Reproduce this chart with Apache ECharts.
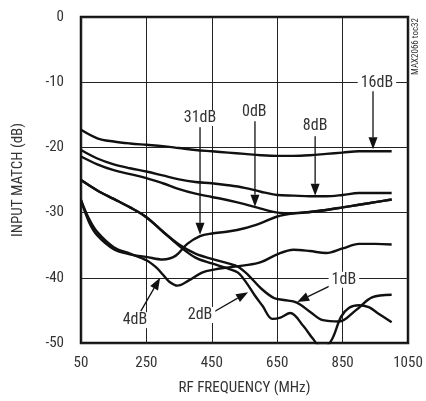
<!DOCTYPE html>
<html>
<head>
<meta charset="utf-8">
<script src="https://cdn.jsdelivr.net/npm/echarts@6/dist/echarts.min.js"></script>
<style>
  html, body { margin: 0; padding: 0; background: #fff; }
  #chart { width: 426px; height: 401px; }
</style>
</head>
<body>
<div id="chart"></div>
<script>
// Input match vs. RF frequency for several attenuation states
var xTicks = [50, 250, 450, 650, 850, 1050];
var yTicks = [0, -10, -20, -30, -40, -50];

var freq16 = [50, 100, 150, 200, 250, 300, 350, 400, 450, 500, 550, 600, 650, 700, 750, 800, 850, 900, 950, 1000];
var match16 = [-17.3, -18.6, -19.1, -19.4, -19.6, -19.8, -20.1, -20.4, -20.6, -20.8, -21.0, -21.2, -21.3, -21.3, -21.2, -21.0, -20.8, -20.6, -20.6, -20.6];

var freq8 = [50, 100, 150, 200, 250, 300, 350, 400, 450, 500, 550, 600, 650, 700, 750, 800, 850, 900, 950, 1000];
var match8 = [-20.4, -21.7, -22.6, -23.2, -23.7, -24.3, -24.9, -25.3, -25.5, -25.8, -26.2, -26.8, -27.3, -27.4, -27.5, -27.5, -27.3, -27.0, -27.0, -27.0];

var freq0 = [50, 100, 150, 200, 250, 300, 350, 400, 450, 500, 550, 600, 650, 700, 750, 800, 850, 900, 950, 1000];
var match0 = [-21.4, -22.6, -23.5, -24.1, -24.7, -25.5, -26.4, -27.1, -27.6, -28.1, -28.7, -29.4, -30.0, -30.1, -29.9, -29.6, -29.2, -28.8, -28.4, -28.0];

var freq31 = [50, 75, 100, 150, 200, 250, 300, 340, 375, 414, 450, 500, 550, 600, 650, 700, 750, 800, 850, 900, 950, 1000];
var match31 = [-28.1, -31.5, -33.5, -35.6, -36.4, -36.8, -37.2, -36.6, -34.8, -33.6, -33.2, -32.9, -32.4, -31.6, -30.6, -30.1, -29.9, -29.6, -29.2, -28.8, -28.4, -28.0];

var freq4 = [50, 75, 100, 150, 200, 250, 280, 300, 320, 345, 380, 420, 460, 500, 550, 600, 650, 700, 750, 800, 850, 900, 950, 1000];
var match4 = [-28.1, -31.0, -33.0, -35.3, -36.3, -37.3, -38.4, -39.5, -40.6, -41.2, -40.4, -39.2, -38.7, -38.4, -38.1, -37.6, -36.4, -35.7, -35.9, -36.2, -35.5, -34.8, -34.8, -34.9];

var freq1 = [50, 100, 150, 200, 250, 300, 350, 400, 450, 500, 530, 560, 600, 640, 670, 710, 750, 790, 840, 890, 940, 1000];
var match1 = [-25.0, -26.6, -27.9, -29.2, -30.7, -32.9, -34.9, -36.3, -37.1, -37.8, -38.3, -39.5, -41.6, -43.1, -43.4, -43.8, -45.2, -46.5, -46.7, -45.0, -43.0, -42.6];

var freq2 = [50, 100, 150, 200, 250, 300, 350, 400, 450, 500, 530, 555, 580, 605, 635, 660, 690, 730, 760, 780, 800, 820, 845, 870, 900, 930, 960, 1000];
var match2 = [-25.0, -26.6, -27.9, -29.2, -30.7, -32.9, -35.1, -36.9, -37.8, -38.6, -39.2, -40.7, -42.6, -44.3, -46.3, -46.1, -45.4, -47.4, -49.4, -50.4, -50.4, -49.2, -46.0, -44.6, -44.2, -44.5, -45.5, -46.8];

var curves = [
  { name: '16dB', x: freq16, y: match16 },
  { name: '8dB', x: freq8, y: match8 },
  { name: '0dB', x: freq0, y: match0 },
  { name: '31dB', x: freq31, y: match31 },
  { name: '4dB', x: freq4, y: match4 },
  { name: '1dB', x: freq1, y: match1 },
  { name: '2dB', x: freq2, y: match2 }
];

// Callouts: text anchor, arrow tail and arrow tip, in (MHz, dB)
var callouts = [
  { text: '16dB', at: [955, -10.1], from: [943, -11.4], to: [943, -20.3] },
  { text: '31dB', at: [414, -15.5], from: [414, -16.9], to: [414, -33.4] },
  { text: '0dB',  at: [580, -14.6], from: [582, -16.0], to: [582, -29.1] },
  { text: '8dB',  at: [766, -16.7], from: [766, -18.3], to: [766, -27.4] },
  { text: '1dB',  at: [854, -40.3], from: [821, -41.0], to: [711, -43.7] },
  { text: '2dB',  at: [414, -45.7], from: [457, -45.2], to: [561, -42.2] },
  { text: '4dB',  at: [215, -46.5], from: [233, -45.1], to: [292, -40.0] }
];

var FONT = '"Liberation Sans Narrow", "Arial Narrow", "Roboto Condensed", sans-serif';
var INK = '#333';

var chart = echarts.init(document.getElementById('chart'), null, { renderer: 'canvas' });

var series = curves.map(function (c) {
  return {
    name: c.name,
    type: 'line',
    data: c.x.map(function (f, i) { return [f, c.y[i]]; }),
    smooth: 0.35,
    symbol: 'none',
    clip: true,
    lineStyle: { color: '#111', width: 2.4 },
    z: 5
  };
});

chart.setOption({
  animation: false,
  backgroundColor: '#fff',
  grid: {
    left: 81, right: 18, top: 17, bottom: 58,
    show: true, borderColor: '#111', borderWidth: 2.5, backgroundColor: 'transparent'
  },
  xAxis: {
    type: 'value', min: 50, max: 1050,
    name: 'RF FREQUENCY (MHz)', nameLocation: 'middle', nameGap: 38,
    nameTextStyle: { fontFamily: FONT, fontSize: 15, color: INK },
    axisLine: { show: false },
    axisTick: { show: false, customValues: xTicks },
    axisLabel: {
      customValues: xTicks, fontFamily: FONT, fontSize: 15, color: INK, margin: 13,
      formatter: function (v) { return String(v); }
    },
    splitLine: { show: true, lineStyle: { color: '#222', width: 1 } }
  },
  yAxis: {
    type: 'value', min: -50, max: 0, interval: 10,
    name: 'INPUT MATCH (dB)', nameLocation: 'middle', nameGap: 55,
    nameTextStyle: { fontFamily: FONT, fontSize: 15, color: INK },
    axisLine: { show: false },
    axisTick: { show: false },
    axisLabel: { fontFamily: FONT, fontSize: 15, color: INK, margin: 17 },
    splitLine: { show: true, lineStyle: { color: '#222', width: 1 } }
  },
  series: series
});

// Callout labels and arrows placed through the axis scales
function px(p) { return chart.convertToPixel({ gridIndex: 0 }, p); }

var elements = [];
callouts.forEach(function (c) {
  var a = px(c.from), b = px(c.to), t = px(c.at);
  var dx = b[0] - a[0], dy = b[1] - a[1];
  var len = Math.sqrt(dx * dx + dy * dy);
  var ux = dx / len, uy = dy / len;
  var headL = 12, headW = 4.5;
  var bx = b[0] - ux * headL, by = b[1] - uy * headL;
  elements.push({
    type: 'line', z: 20,
    shape: { x1: a[0], y1: a[1], x2: bx, y2: by },
    style: { stroke: '#111', lineWidth: 1.3 }
  });
  elements.push({
    type: 'polygon', z: 20,
    shape: { points: [[b[0], b[1]], [bx - uy * headW, by + ux * headW], [bx + uy * headW, by - ux * headW]] },
    style: { fill: '#111' }
  });
  elements.push({
    type: 'text', z: 21, x: t[0], y: t[1],
    style: {
      text: c.text, fontFamily: FONT, fontSize: 16, fill: INK,
      align: 'center', verticalAlign: 'middle',
      backgroundColor: '#fff', padding: [0, 3]
    }
  });
});

elements.push({
  type: 'text', z: 21, x: 416, y: 18, rotation: Math.PI / 2,
  style: {
    text: 'MAX2066 toc32', fontFamily: FONT, fontSize: 9, fill: INK,
    align: 'right', verticalAlign: 'middle'
  }
});

chart.setOption({ graphic: { elements: elements } });
</script>
</body>
</html>
